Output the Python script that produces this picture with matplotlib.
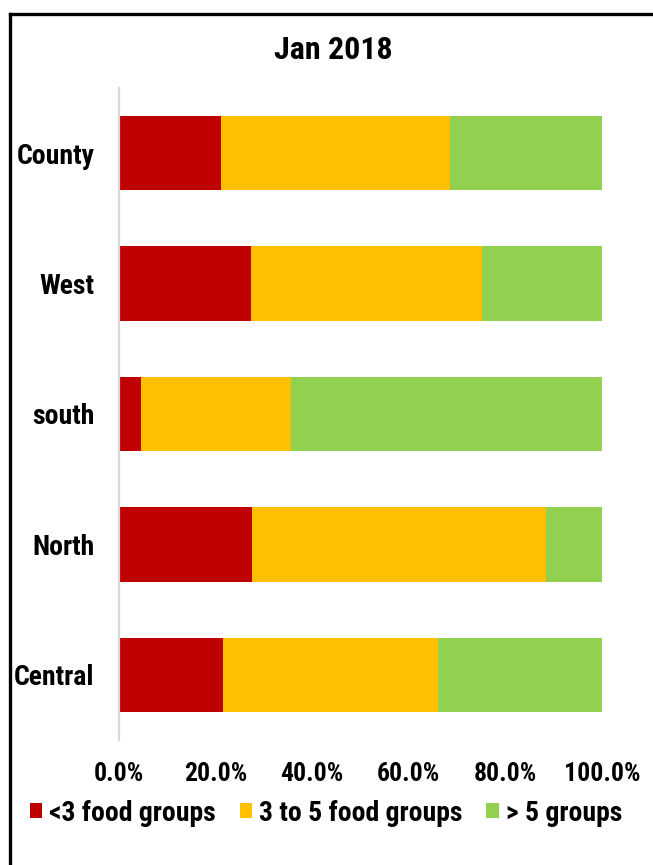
import matplotlib.pyplot as plt
import numpy as np
from matplotlib.lines import Line2D
from matplotlib.patches import Patch
from matplotlib.ticker import FuncFormatter

# Share of respondents by number of food groups eaten, Jan 2018
regions = ["County", "West", "south", "North", "Central"]
under_3 = [21.1, 27.3, 4.6, 27.5, 21.5]
three_to_5 = [47.4, 47.9, 31.0, 60.9, 44.5]
over_5 = [31.5, 24.8, 64.4, 11.6, 34.0]

series_labels = ["<3 food groups", "3 to 5 food groups", "> 5 groups"]
colors = ["#C00000", "#FFC000", "#92D050"]

plt.rcParams["font.family"] = ["Roboto Condensed", "DejaVu Sans"]
plt.rcParams["font.weight"] = "bold"

fig = plt.figure(figsize=(6.53, 8.65), dpi=100)
ax = fig.add_axes([0.1822, 0.1445, 0.7397, 0.7538])

y = np.arange(len(regions))
left = np.zeros(len(regions))
for vals, col, lab in zip([under_3, three_to_5, over_5], colors, series_labels):
    ax.barh(y, vals, 0.57, left=left, color=col, label=lab)
    left += np.array(vals)

ax.set_ylim(len(regions) - 0.5, -0.5)
ax.set_xlim(0, 100)
ax.set_xticks(np.arange(0, 101, 20))
ax.xaxis.set_major_formatter(FuncFormatter(lambda v, _: f"{v:.1f}%"))
ax.set_yticks(y)
ax.set_yticklabels(regions)
ax.tick_params(axis="x", length=0, pad=16, labelsize=18.5)
ax.tick_params(axis="y", length=0, pad=17.5, labelsize=20)

for side in ("top", "right", "bottom"):
    ax.spines[side].set_visible(False)
ax.spines["left"].set_color("#D9D9D9")
ax.spines["left"].set_linewidth(1.6)

fig.text(0.511, 0.942, "Jan 2018", ha="center", va="center",
         fontsize=23, fontweight="bold")

handles = [Patch(facecolor=c, edgecolor="none") for c in colors]
fig.legend(handles, series_labels, loc="center", bbox_to_anchor=(0.499, 0.06),
           ncol=3, frameon=False, fontsize=20, handlelength=0.45,
           handleheight=0.45, handletextpad=0.25, columnspacing=0.85)

# black frame around the chart area (left and top edges)
fig.add_artist(Line2D([0.0153, 0.0153], [0.0, 0.984], color="black",
                      lw=2.4, transform=fig.transFigure))
fig.add_artist(Line2D([0.0153, 1.0], [0.984, 0.984], color="black",
                      lw=2.4, transform=fig.transFigure))

fig.savefig("out.png", dpi=100)
